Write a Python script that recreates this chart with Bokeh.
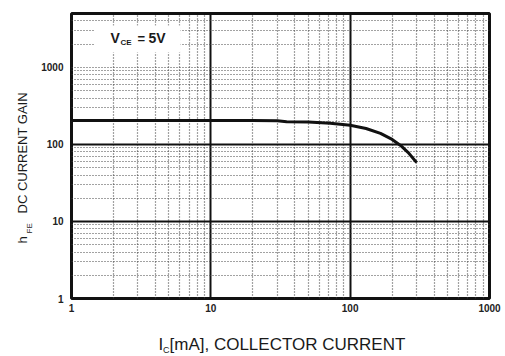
import math
from bokeh.plotting import figure
from bokeh.layouts import row, column
from bokeh.models import FixedTicker, Label, Range1d, BoxAnnotation
from bokeh.embed import file_html
from bokeh.resources import INLINE

# ---- data ----
ic_ma = [1, 2, 5, 10, 20, 30, 35, 50, 72, 100, 130, 165, 200, 230, 260, 300]
hfe = [204, 204, 204, 204, 204, 203, 197, 195, 188, 177, 161, 139, 116, 97, 79, 58]

x_ticks = [1, 10, 100, 1000]
x_tick_labels = ["1", "10", "100", "1000"]
y_ticks = [1, 10, 100, 1000]
y_tick_labels = ["1", "10", "100", "1000"]

x_grid_major = [10, 100]
x_grid_minor = [2, 3, 4, 5, 6, 7, 8, 9, 20, 30, 40, 50, 60, 70, 80, 90,
                200, 300, 400, 500, 600, 700, 800, 900]
y_grid_major = [10, 100]
y_grid_minor = [2, 3, 4, 5, 6, 7, 8, 9, 20, 30, 40, 50, 60, 70, 80, 90,
                200, 300, 400, 500, 600, 700, 800, 900, 1000, 2000, 3000, 4000]

X_RANGE = (1, 1000)
Y_RANGE = (1, 5000)

FONT = "Liberation Sans"
INK = "#1a1a1a"

# ---- layout (window pixels) ----
YT_W = 38                      # y-title strip width
P_W, P_H = 467, 320            # main figure
XT_H = 36                      # x-title strip height
BL, BR, BT, BB = 33, 16, 13, 22

p = figure(width=P_W, height=P_H, x_axis_type="log", y_axis_type="log",
           x_range=X_RANGE, y_range=Y_RANGE, output_backend="svg",
           toolbar_location=None, min_border_left=BL, min_border_right=BR,
           min_border_top=BT, min_border_bottom=BB)
p.background_fill_color = "white"
p.border_fill_color = "white"
p.outline_line_color = "#111111"
p.outline_line_width = 3

for ax, ticks, labels in ((p.xaxis[0], x_ticks, x_tick_labels),
                          (p.yaxis[0], y_ticks, y_tick_labels)):
    ax.ticker = FixedTicker(ticks=ticks)
    ax.major_label_overrides = {t: l for t, l in zip(ticks, labels)}
    ax.axis_line_color = None
    ax.major_tick_line_color = None
    ax.minor_tick_line_color = None
    ax.major_tick_out = 0
    ax.major_tick_in = 0
    ax.minor_tick_out = 0
    ax.minor_tick_in = 0
    ax.axis_label_standoff = 0
    ax.major_label_text_font = FONT
    ax.major_label_text_font_style = "bold"
    ax.major_label_text_font_size = "10px"
    ax.major_label_text_color = "#222222"
p.xaxis.major_label_standoff = 5
p.yaxis.major_label_standoff = 8

for g, maj, mnr in ((p.xgrid[0], x_grid_major, x_grid_minor),
                    (p.ygrid[0], y_grid_major, y_grid_minor)):
    g.ticker = FixedTicker(ticks=maj, minor_ticks=mnr)
    g.grid_line_color = "#111111"
    g.grid_line_width = 2
    g.minor_grid_line_color = "#444444"
    g.minor_grid_line_width = 1.2
    g.minor_grid_line_dash = "1 2"

p.line(ic_ma, hfe, line_color="#111111", line_width=3)

# frame position in window pixels
FX0, FX1 = YT_W + BL, YT_W + P_W - BR
FY0, FY1 = BT, P_H - BB
lx0, lx1 = math.log10(X_RANGE[0]), math.log10(X_RANGE[1])
ly0, ly1 = math.log10(Y_RANGE[0]), math.log10(Y_RANGE[1])


def px2x(px):
    return 10 ** (lx0 + (px - FX0) / (FX1 - FX0) * (lx1 - lx0))


def py2y(py):
    return 10 ** (ly1 - (py - FY0) / (FY1 - FY0) * (ly1 - ly0))


SHIFT = 0.45   # measured offset of the drawn baseline, in em


def mk(x, y, txt, size, bold=False, angle=0.0):
    return Label(x=x, y=y, text=txt, angle=angle, text_font=FONT,
                 text_font_size=f"{size}px",
                 text_font_style="bold" if bold else "normal",
                 text_color=INK, text_align="left", text_baseline="alphabetic")


# white box behind the V_CE annotation, then the annotation
p.add_layout(BoxAnnotation(left=px2x(94), right=px2x(180), top=py2y(25),
                           bottom=py2y(52), fill_color="white", fill_alpha=1.0,
                           line_color=None))
for px, py, t, s in ((110, 44, "V", 14), (120, 46, "CE", 8),
                     (137, 44, "=", 13), (148, 44, "5V", 14)):
    p.add_layout(mk(px2x(px), py2y(py - SHIFT * s), t, s, bold=True))


def strip(w, h, xr, yr):
    f = figure(width=w, height=h, x_range=Range1d(*xr), y_range=Range1d(*yr),
               x_axis_type=None, y_axis_type=None, output_backend="svg",
               toolbar_location=None, min_border=0, title=None)
    f.outline_line_color = None
    f.grid.visible = False
    f.background_fill_color = "white"
    f.border_fill_color = "white"
    return f


# y-axis title: h_FE DC CURRENT GAIN (rotated), window coordinates
yt = strip(YT_W, P_H + XT_H, (0, YT_W), (P_H + XT_H, 0))
rot = math.pi / 2
for px, py, t, s in ((28, 243, "h", 13), (33, 233, "FE", 8),
                     (28, 213, "DC CURRENT GAIN", 13)):
    yt.add_layout(mk(px - SHIFT * s, py, t, s, angle=rot))

# x-axis title: I_C[mA], COLLECTOR CURRENT (strip frame aligns with p's frame)
xt = strip(P_W, XT_H, (FX0, FX1), (P_H + XT_H, P_H))
for px, py, t, s in ((158, 352, "I", 17), (162.5, 354, "C", 9),
                     (169, 352, "[mA], COLLECTOR CURRENT", 17)):
    xt.add_layout(mk(px, py - SHIFT * s, t, s))

layout = row(yt, column(p, xt))
open("out.html", "w").write(file_html(layout, INLINE))
